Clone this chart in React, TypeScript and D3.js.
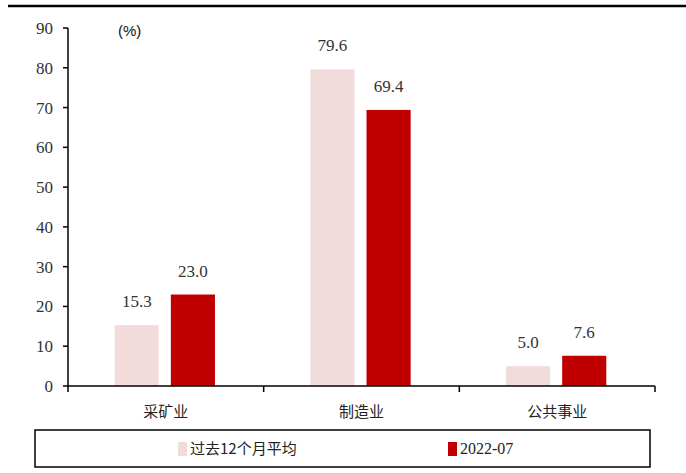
import React from 'react';
import * as d3 from 'd3';

const categories = ['采矿业', '制造业', '公共事业'];
const seriesNames = ['过去12个月平均', '2022-07'];
const avg12m = [15.3, 79.6, 5.0];
const jul2022 = [23.0, 69.4, 7.6];
const yTicks = [0, 10, 20, 30, 40, 50, 60, 70, 80, 90];
const colors = ['#F2DCDB', '#C00000'];

const SERIF = 'Liberation Serif';
const CJK = 'Noto Sans CJK SC';

export default function App() {
  const left = 68, right = 655, top = 28, bottom = 386;

  const x = d3.scaleBand().domain(categories).range([left, right]);
  const inner = d3.scaleBand().domain(seriesNames).range([0, x.bandwidth()])
    .paddingInner(0.214).paddingOuter(0.85);
  const y = d3.scaleLinear().domain([0, 90]).range([bottom, top]);

  const data = [avg12m, jul2022];
  const bounds = [...categories.map((c) => x(c) || 0), right];
  const legendX = [178, 448];

  return (
    <svg width={686} height={473} style={{ position: 'absolute', left: 0, top: 0, background: '#fff' }}>
      {/* top rule */}
      <line x1={8} x2={686} y1={6} y2={6} stroke="#000" strokeWidth={2.5} />

      {/* bars + labels */}
      {data.map((vals, si) =>
        vals.map((d, i) => {
          const bx = (x(categories[i]) || 0) + (inner(seriesNames[si]) || 0) - 1;
          return (
            <g key={`${si}-${i}`}>
              <rect x={bx} y={y(d)} width={inner.bandwidth()} height={bottom - y(d)} fill={colors[si]} />
              <text x={bx + inner.bandwidth() / 2} y={y(d) - 18} textAnchor="middle"
                fontFamily={SERIF} fontSize={17} fill="#333">
                {d.toFixed(1)}
              </text>
            </g>
          );
        })
      )}

      {/* y axis */}
      <line x1={left} x2={left} y1={top} y2={bottom} stroke="#000" strokeWidth={1.5} />
      {yTicks.map((t) => (
        <g key={t}>
          <line x1={left - 5} x2={left} y1={y(t)} y2={y(t)} stroke="#000" strokeWidth={1.5} />
          <text x={left - 15} y={y(t)} dy="0.35em" textAnchor="end" fontFamily={SERIF} fontSize={17} fill="#333">
            {t}
          </text>
        </g>
      ))}

      {/* x axis */}
      <line x1={left} x2={right} y1={bottom} y2={bottom} stroke="#000" strokeWidth={1.5} />
      {bounds.map((b) => (
        <line key={b} x1={b} x2={b} y1={bottom} y2={bottom + 6} stroke="#000" strokeWidth={1.5} />
      ))}
      {categories.map((c) => (
        <text key={c} x={(x(c) || 0) + x.bandwidth() / 2} y={bottom + 31} textAnchor="middle"
          fontFamily={CJK} fontSize={15} fill="#222">
          {c}
        </text>
      ))}

      {/* unit */}
      <text x={118} y={36} fontFamily="Liberation Sans" fontSize={15} fill="#111">(%)</text>

      {/* legend */}
      <rect x={35} y={430} width={615} height={37} fill="none" stroke="#000" strokeWidth={1.5} />
      {seriesNames.map((name, i) => (
        <g key={name}>
          <rect x={legendX[i]} y={442} width={9} height={14} fill={colors[i]} />
          <text x={legendX[i] + 12} y={454} fontFamily={i === 0 ? CJK : SERIF}
            fontSize={i === 0 ? 15 : 16} fill="#222">
            {name}
          </text>
        </g>
      ))}
    </svg>
  );
}
